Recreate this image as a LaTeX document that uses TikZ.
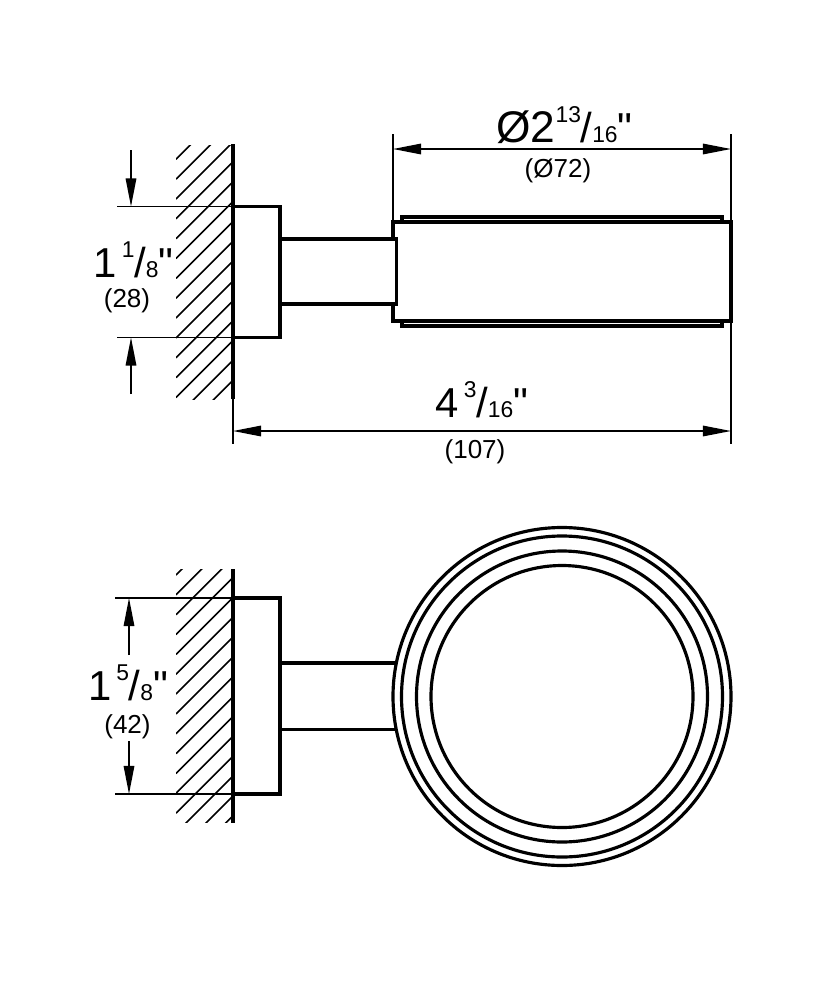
\documentclass[tikz,border=0pt]{standalone}
\usepackage{fontspec}
\setmainfont{Liberation Sans}[Ligatures=TeXOff]
\usetikzlibrary{arrows.meta}
\newcommand{\dimfrac}[3]{{\fontsize{11.9}{13}\selectfont #1\raisebox{5.6pt}{\fontsize{6.5}{7}\selectfont #2}\kern-0.1pt/\fontsize{6.5}{7}\selectfont #3\fontsize{11.9}{13}\selectfont "}}
\tikzset{
    thickline/.style={line width=0.9pt, line join=miter},
    thinline/.style={line width=0.42pt},
    hatchline/.style={line width=0.45pt},
    dimline/.style={line width=0.42pt, -{Triangle[length=0.28cm, width=0.105cm]}},
    bothdim/.style={line width=0.42pt, {Triangle[length=0.28cm, width=0.105cm]}-{Triangle[length=0.28cm, width=0.105cm]}},
    biglabel/.style={anchor=base, inner sep=0pt},
    smalllabel/.style={anchor=base, inner sep=0pt, font=\fontsize{7.4}{8}\selectfont}
}
\begin{document}
\begin{tikzpicture}[x=0.01cm, y=-0.01cm]
    \useasboundingbox (0,0) rectangle (834,1000);
    % hatching on the wall, side view
    \begin{scope}
        \clip (176,145) rectangle (233,399);
        \foreach \k in {0,...,15}
        \draw[hatchline] (176,159.3+19.85*\k) -- ++(60,-60);
    \end{scope}
    % hatching on the wall, front view
    \begin{scope}
        \clip (176,569) rectangle (233,822);
        \foreach \k in {0,...,15}
        \draw[hatchline] (176,575+19.85*\k) -- ++(60,-60);
    \end{scope}
    % side view
    \draw[thickline] (402,222) -- (402,217) -- (722,217) -- (722,222);
    \draw[thickline] (402,321) -- (402,326) -- (722,326) -- (722,321);
    \draw[thickline] (393,222) rectangle (731,321);
    \filldraw[thickline, fill=white] (280,239) -- (396.5,239) -- (396.5,304) -- (280,304);
    \draw[thickline] (233,144) -- (233,399);
    \draw[thinline] (233,399) -- (233,444);
    \draw[thickline] (233,206.5) -- (280,206.5) -- (280,337.5) -- (233,337.5);
    % front view
    \draw[thickline] (233,569) -- (233,823);
    \draw[thickline] (233,598) -- (280,598) -- (280,794) -- (233,794);
    \draw[thickline] (280,663) -- (397,663);
    \draw[thickline] (280,729.5) -- (397,729.5);
    \foreach \r in {169,160.5,145.5,131}
    \draw[thickline] (562,696.5) circle (\r*0.01cm);
    % extension lines
    \coordinate (wallA) at (233,206.5);
    \coordinate (wallB) at (233,337.5);
    \coordinate (wallC) at (233,598);
    \coordinate (wallD) at (233,794);
    \draw[thinline] (wallA) -- (117,206.5);
    \draw[thinline] (wallB) -- (117,337.5);
    \draw[thinline] (wallC) -- (115,598);
    \draw[thinline] (wallD) -- (115,794);
    \draw[thinline] (393,134) -- (393,222);
    \draw[thinline] (731,134) -- (731,444);
    % dimensions
    \draw[bothdim] (393,149) -- (731,149);
    \draw[bothdim] (233,431) -- (731,431);
    \draw[dimline] (131,150) -- (131,206.5);
    \draw[dimline] (131,394) -- (131,337.5);
    \draw[dimline] (129,655) -- (129,598);
    \draw[dimline] (129,741) -- (129,794);
    % labels
    \node[biglabel] (diaInch) at (564.5,142) {\fontsize{12.6}{14}\selectfont Ø2\dimfrac{}{13}{16}};
    \node[smalllabel] (diaMm) at (558,177) {(Ø72)};
    \node[biglabel] (lenInch) at (482,417) {\dimfrac{4\kern1.4pt}{3}{16}};
    \node[smalllabel] (lenMm) at (475,458) {(107)};
    \node[biglabel] (sideInch) at (133.5,277) {\dimfrac{1\kern1.4pt}{1}{8}};
    \node[smalllabel] (sideMm) at (127,307) {(28)};
    \node[biglabel] (frontInch) at (128,700) {\dimfrac{1\kern1.4pt}{5}{8}};
    \node[smalllabel] (frontMm) at (127.5,733) {(42)};
\end{tikzpicture}
\end{document}
